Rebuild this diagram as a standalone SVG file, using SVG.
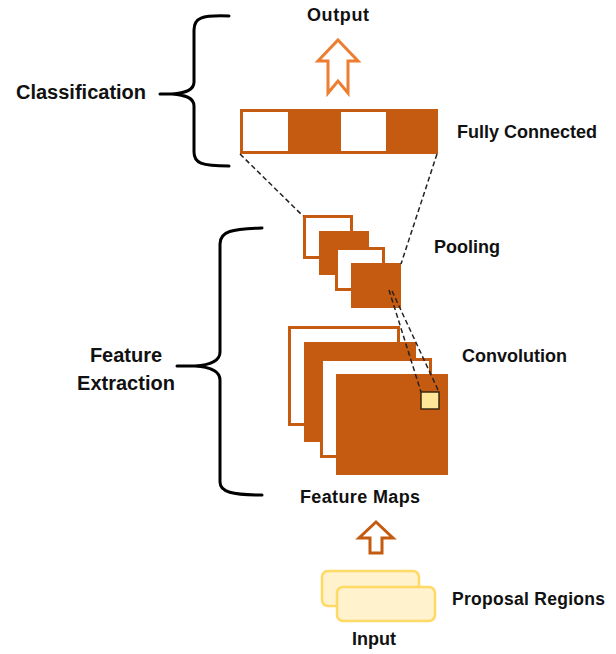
<svg xmlns="http://www.w3.org/2000/svg" width="616" height="654" viewBox="0 0 616 654">
  <style>
    .lbl { font-family: "Liberation Sans", Arial, sans-serif; font-weight: bold; fill: #111; }
    .s18 { font-size: 18px; }
    .s20 { font-size: 20px; }
    .mid { text-anchor: middle; }
    .fillmap { fill: #C55A11; }
    .openmap { fill: #fff; stroke: #C55A11; stroke-width: 3; }
    .brace { fill: none; stroke: #000; stroke-width: 3; stroke-linecap: round; stroke-linejoin: round; }
    .dash { fill: none; stroke: #222; stroke-width: 1.5; stroke-dasharray: 5 3; }
  </style>
  <rect width="616" height="654" fill="#fff"/>

  <!-- stage braces -->
  <g id="classification">
    <path class="brace" d="M229,16 C201,15 194,18 194,30 L194,82 C194,90 186,93 172,94 C186,95 194,98 194,106 L194,152 C194,163 201,166 229,166 M160,94 H173"/>
    <text class="lbl s20" x="16" y="99">Classification</text>
  </g>
  <g id="feature-extraction">
    <path class="brace" d="M262,228 C232,229 220,231 220,244 L220,352 C220,361 210,365 195,366 C210,367 220,371 220,380 L220,482 C220,492 232,495 262,495 M177,366 H196"/>
    <text class="lbl s20 mid" x="126" y="362">Feature</text>
    <text class="lbl s20 mid" x="126" y="390">Extraction</text>
  </g>

  <!-- output -->
  <g id="output">
    <text class="lbl s18 mid" x="338" y="21" textLength="62">Output</text>
  </g>

  <!-- fully connected layer -->
  <g id="fully-connected">
    <rect x="241.5" y="110.5" width="195" height="42" fill="#fff" stroke="#C55A11" stroke-width="3"/>
    <rect class="fillmap" x="288" y="109" width="53" height="45"/>
    <rect class="fillmap" x="386" y="109" width="52" height="45"/>
    <text class="lbl s18" x="457" y="138">Fully Connected</text>
  </g>

  <!-- pooling stack -->
  <g id="pooling">
    <rect class="openmap" x="304.5" y="216.5" width="47" height="41"/>
    <rect class="fillmap" x="319" y="231" width="50" height="44"/>
    <rect class="openmap" x="336.5" y="248.5" width="47" height="41"/>
    <rect class="fillmap" x="351" y="263" width="50" height="45"/>
    <text class="lbl s18" x="434" y="253">Pooling</text>
  </g>

  <!-- convolution feature maps -->
  <g id="feature-maps">
    <rect class="openmap" x="289.5" y="327.5" width="109" height="97"/>
    <rect class="fillmap" x="304" y="342" width="112" height="100"/>
    <rect class="openmap" x="321.5" y="359.5" width="109" height="97"/>
    <rect class="fillmap" x="336" y="374" width="112" height="101"/>
    <rect x="421" y="392" width="18" height="17" fill="#FFE699" stroke="#3a2a10" stroke-width="1.5"/>
    <text class="lbl s18" x="462" y="362">Convolution</text>
    <text class="lbl s18 mid" x="360" y="503" textLength="120">Feature Maps</text>
  </g>

  <!-- input proposals -->
  <g id="input">
    <rect x="322" y="571" width="97" height="35" rx="6" fill="#FFF2CC" stroke="#FFD966" stroke-width="2.5"/>
    <rect x="337" y="587" width="98" height="34" rx="6" fill="#FFF2CC" stroke="#FFD966" stroke-width="2.5"/>
    <text class="lbl" style="font-size:17.5px" x="452" y="605" textLength="153">Proposal Regions</text>
    <text class="lbl s18 mid" x="374" y="645">Input</text>
  </g>

  <!-- connectors -->
  <g id="connectors">
    <line class="dash" x1="240" y1="154" x2="303" y2="216"/>
    <line class="dash" x1="437" y1="154" x2="401" y2="264"/>
    <line class="dash" x1="389" y1="290" x2="421" y2="392"/>
    <line class="dash" x1="392" y1="291" x2="439" y2="392"/>
    <path d="M338,40 L358,61 L348,61 L348,93 L338,81 L328,93 L328,61 L318,61 Z" fill="#fff" stroke="#ED7D31" stroke-width="3" stroke-linejoin="miter"/>
    <path d="M376,522 L393,538 L382,538 L382,553 L370,553 L370,538 L359,538 Z" fill="#fff" stroke="#C55A11" stroke-width="3" stroke-linejoin="miter"/>
  </g>
</svg>
